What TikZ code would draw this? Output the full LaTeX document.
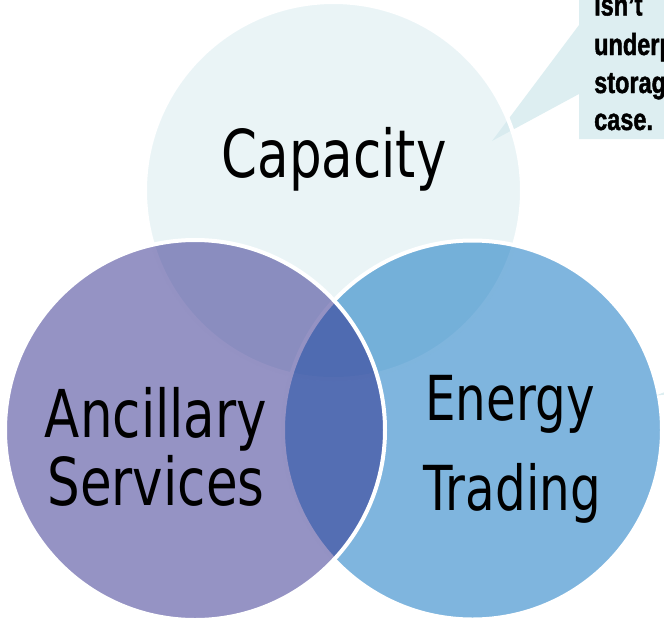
\documentclass[tikz,border=0pt]{standalone}
\usepackage{fontspec}
\newfontfamily\vennfont[FakeStretch=0.78]{DejaVu Sans}
\newfontfamily\notefont[FakeStretch=0.77,FakeBold=1.4]{Liberation Sans}
\definecolor{topc}{RGB}{213,234,238}
\definecolor{leftc}{RGB}{43,39,137}
\definecolor{rightc}{RGB}{0,108,189}
\definecolor{notec}{RGB}{187,221,227}
\begin{document}
\begin{tikzpicture}[x=1pt,y=-1pt,
  venn/.style={circle, draw=white, line width=4pt, fill opacity=0.5, draw opacity=1, inner sep=0pt, outer sep=0pt},
  note/.style={fill=notec, fill opacity=0.5},
  bigtext/.style={font=\vennfont\fontsize{66}{66}\selectfont, anchor=base, inner sep=0pt, text=black},
  midtext/.style={font=\vennfont\fontsize{62}{62}\selectfont, anchor=base, inner sep=0pt, text=black},
  notetext/.style={font=\notefont\bfseries\fontsize{30.5}{30.5}\selectfont, anchor=base west, inner sep=0pt, text=black}]
\useasboundingbox (0,0) rectangle (664,622);
\clip (0,0) rectangle (664,622);
% callout
\fill[note] (579,-5) -- (700,-5) -- (700,139) -- (579,139) -- (579,94) -- (492,141) -- (579,25) -- cycle;
% circles
\node[venn, fill=topc, minimum size=377pt] (cap) at (333.5,190.5) {};
\node[venn, fill=rightc, minimum size=379pt] (ene) at (472.5,430) {};
\node[venn, fill=leftc, minimum size=380pt] (anc) at (195,430) {};
% small pointer at right edge
\fill[note] (656,395.5) -- (666,391.5) -- (666,394.5) -- cycle;
% texts
\node[bigtext] (tcap) at (334,177) {Capacity};
\node[bigtext] (tanc1) at (156,437) {Ancillary};
\node[bigtext] (tanc2) at (156,505) {Services};
\node[midtext] (tene1) at (510,420) {Energy};
\node[midtext] (tene2) at (512,510) {Trading};
\node[notetext] (n1) at (594,15.5) {Isn’t};
\node[notetext] (n2) at (594,55) {underp};
\node[notetext] (n3) at (594,93) {storag};
\node[notetext] (n4) at (594,130) {case.};
\end{tikzpicture}
\end{document}
